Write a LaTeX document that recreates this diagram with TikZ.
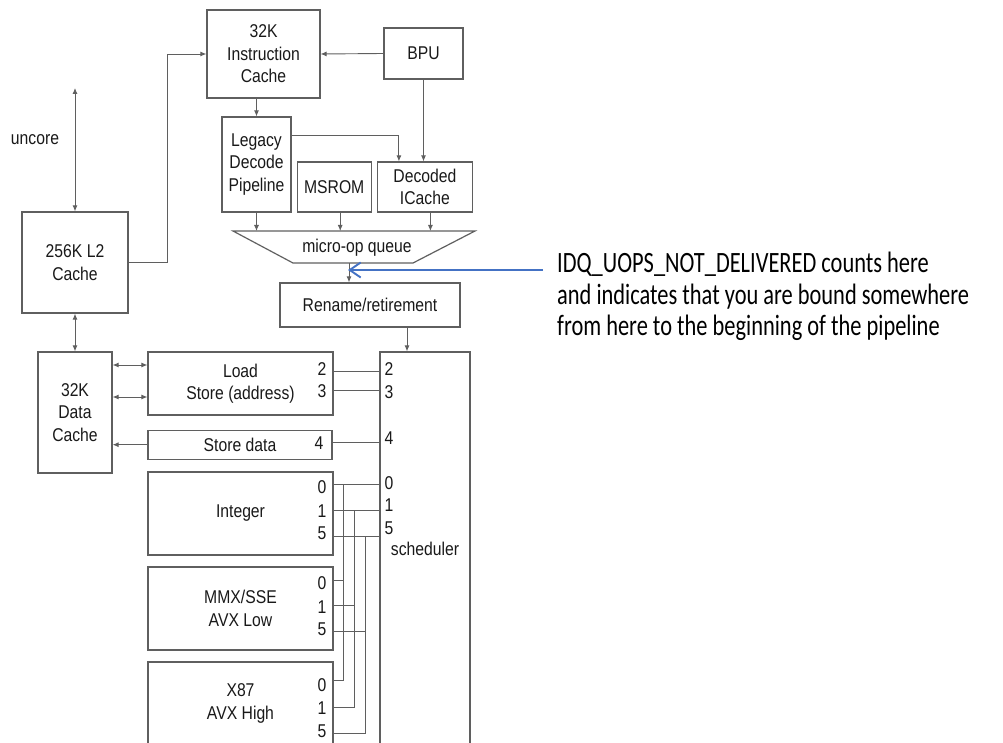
\documentclass[tikz,border=0pt]{standalone}
\usepackage{fontspec}
\setmainfont{Liberation Sans}[FakeStretch=0.85]
\newfontfamily\notefont{Carlito}[FakeStretch=0.76]
\usetikzlibrary{arrows.meta, positioning}

\definecolor{linegray}{RGB}{95,95,95}
\definecolor{calloutblue}{RGB}{68,114,196}

\begin{document}
\begin{tikzpicture}[
  x=1pt, y=-1pt,
  font=\fontsize{18.5}{22.5}\selectfont,
  text=black!90,
  box/.style={
    draw=linegray,
    line width=1.2pt,
    align=center,
    inner sep=0pt
  },
  arrow/.style={-{Latex[length=6pt,width=5pt]}, draw=linegray, line width=0.9pt},
  dblarrow/.style={{Latex[length=6pt,width=5pt]}-{Latex[length=6pt,width=5pt]}, draw=linegray, line width=0.9pt},
  wire/.style={draw=linegray, line width=0.9pt},
  port/.style={inner sep=0pt},
  callout/.style={-{Straight Barb[length=11pt,width=15pt]}, draw=calloutblue, line width=1.9pt}
]

\useasboundingbox (0,0) rectangle (1003,743);
\clip (0,0) rectangle (1003,743);

% --- Front end ---
\node[box, minimum width=113pt, minimum height=88pt] (icache) at (263.5,54)
{32K\\Instruction\\Cache};

\node[box, minimum width=79pt, minimum height=51pt] (bpu) at (423.5,53.5) {BPU};

\node[box, minimum width=69pt, minimum height=95pt] (legacy) at (256.5,164.5)
{Legacy\\Decode\\Pipeline};

\node[box, right=5pt of legacy.south east, anchor=south west,
  minimum width=74pt, minimum height=50pt] (msrom) {MSROM};

\node[box, right=5pt of msrom, minimum width=95pt, minimum height=50pt] (dsb)
{Decoded\\ICache};

\draw[arrow] (bpu.west) -- (icache.east);
\draw[arrow] (legacy.north |- icache.south) -- (legacy.north);
\draw[arrow] ([yshift=-19pt]legacy.north east) -| ([xshift=-26pt]dsb.north);
\draw[arrow] (bpu.south) -- (bpu.south |- dsb.north);

% --- micro-op queue ---
\coordinate (qtl) at (233,231);
\coordinate (qtr) at (475,231);
\coordinate (qbr) at (413,263);
\coordinate (qbl) at (293,263);
\draw[line width=1.2pt, draw=linegray] (qtl) -- (qtr) -- (qbr) -- (qbl) -- cycle;
\node (queue) at (357,248) {micro-op queue};

\coordinate (msin) at ([xshift=6pt]msrom.south);
\coordinate (dsbin) at ([xshift=5.5pt]dsb.south);
\draw[arrow] (legacy.south) -- (legacy.south |- qtl);
\draw[arrow] (msin) -- (msin |- qtl);
\draw[arrow] (dsbin) -- (dsbin |- qtl);

\node[box, minimum width=180pt, minimum height=44pt] (rename) at (370,305)
{Rename/retirement};

\coordinate (qout) at (349,263);
\draw[arrow] (qout) -- (qout |- rename.north);

% --- Callout ---
\node[anchor=north west, align=left, inner xsep=14pt, inner ysep=0pt,
  font=\notefont\fontsize{29.5}{31.5}\selectfont, text=black] (note) at (543,252)
{IDQ\_UOPS\_NOT\_DELIVERED counts here\\
and indicates that you are bound somewhere\\
from here to the beginning of the pipeline};

\coordinate (tip) at (348,270);
\draw[callout] (note.west |- tip) -- (tip);

% --- Caches ---
\node[box, minimum width=106pt, minimum height=101pt] (l2) at (75,262.5)
{256K L2\\Cache};

\coordinate (uncoreend) at (75,88);
\node (uncore) at (35,140) {uncore};
\draw[dblarrow] (uncoreend) -- (l2.north);
\draw[arrow] (l2.east) -- ++(39,0) |- (icache.west);

\node[box, minimum width=74pt, minimum height=121pt] (dcache) at (75,412.5)
{32K\\Data\\Cache};

\draw[dblarrow] (l2.south) -- (dcache.north);

% --- Execution units ---
\node[box, minimum width=185pt, minimum height=63pt] (load) at (240.5,383.5)
{Load\\Store (address)};

\node[box, below=14pt of load.south west, anchor=north west,
  minimum width=184pt, minimum height=29pt] (store) {Store data};

\node[box, minimum width=185pt, minimum height=83pt] (int) at (240.5,513.5) {Integer};
\node[box, minimum width=185pt, minimum height=83pt] (mmx) at (240.5,608.5)
{MMX/SSE\\AVX Low};
\node[box, minimum width=185pt, minimum height=83pt] (x87) at (240.5,703.5)
{X87\\AVX High};

\node[box, minimum width=90pt, minimum height=394pt] (sched) at (425,549) {scheduler};

\coordinate (rs) at ([xshift=37pt]rename.south);
\draw[arrow] (rs) -- (rs |- sched.north);

\draw[dblarrow] (dcache.east |- 0,365) -- (load.west |- 0,365);
\draw[dblarrow] (dcache.east |- 0,397) -- (load.west |- 0,397);
\draw[arrow] (store.west) -- (dcache.east |- store.west);

% port numbers
\node[port] (ld2) at (322,369) {2};
\node[port] (ld3) at (322,391) {3};
\node[port] (st4) at (319,443) {4};
\node[port] (in0) at (322,487) {0};
\node[port] (in1) at (322,511) {1};
\node[port] (in5) at (322,533) {5};
\node[port] (mm0) at (322,583) {0};
\node[port] (mm1) at (322,607) {1};
\node[port] (mm5) at (322,629) {5};
\node[port] (x80) at (322,685) {0};
\node[port] (x81) at (322,708) {1};
\node[port] (x85) at (322,731) {5};

\node[port] (s2) at (389,369) {2};
\node[port] (s3) at (389,392) {3};
\node[port] (s4) at (389,438) {4};
\node[port] (s0) at (389,483) {0};
\node[port] (s1) at (389,505) {1};
\node[port] (s5) at (389,528) {5};

\draw[wire] (load.east |- 0,371) -- (sched.west |- 0,371);
\draw[wire] (load.east |- 0,390) -- (sched.west |- 0,390);
\draw[wire] (store.east |- 0,442) -- (sched.west |- 0,442);

\draw[wire] (int.east |- 0,484) -- (sched.west |- 0,484);
\draw[wire] (int.east |- 0,510) -- (sched.west |- 0,510);
\draw[wire] (int.east |- 0,536) -- (sched.west |- 0,536);

\coordinate (bus0) at (343,484);
\coordinate (bus1) at (354,510);
\coordinate (bus5) at (365,536);

\draw[wire] (mmx.east |- 0,580) -| (bus0);
\draw[wire] (mmx.east |- 0,605) -| (bus1);
\draw[wire] (mmx.east |- 0,631) -| (bus5);
\draw[wire] (x87.east |- 0,680) -| (bus0);
\draw[wire] (x87.east |- 0,707) -| (bus1);
\draw[wire] (x87.east |- 0,733) -| (bus5);

\end{tikzpicture}
\end{document}
